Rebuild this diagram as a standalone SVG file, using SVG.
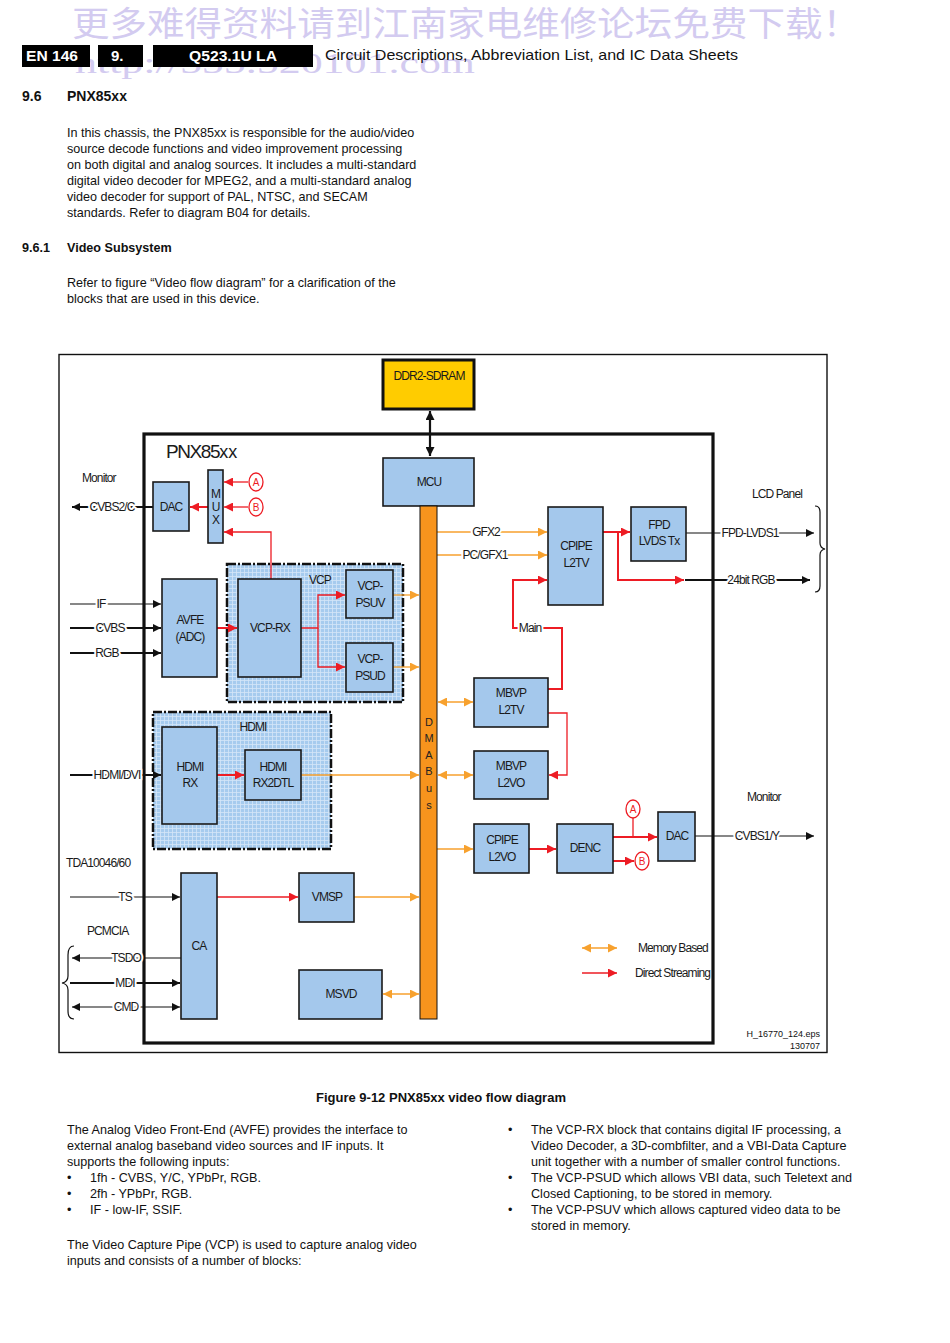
<svg xmlns="http://www.w3.org/2000/svg" width="950" height="1343" viewBox="0 0 950 1343">
<defs>
<style>
.t{font-family:"Liberation Sans",Arial,sans-serif;fill:#111}
.body{font-size:12.6px}
.lb{font-family:"Liberation Sans",Arial,sans-serif;font-size:12px;letter-spacing:-0.9px;fill:#1a1a1a}
.c{text-anchor:middle}
.halo{stroke:#fff;stroke-width:4;paint-order:stroke;stroke-linejoin:round}
.box{fill:#a4c8ec;stroke:#1a1a1a;stroke-width:1.6}
.grp{fill:url(#grid);stroke:#111;stroke-width:2.5;stroke-dasharray:9,2,2,2}
.red{stroke:#ed1c24;stroke-width:1.3;fill:none}
.redT{stroke:#ed1c24;stroke-width:2;fill:none}
.org{stroke:#f7a12e;stroke-width:1.3;fill:none}
.blk{stroke:#111;stroke-width:1.2;fill:none}
.blkT{stroke:#111;stroke-width:2.2;fill:none}
.circ{fill:#fff;stroke:#ed1c24;stroke-width:1.3}
.ctx{font-family:"Liberation Sans",Arial,sans-serif;font-size:10px;fill:#ed1c24;text-anchor:middle}
</style>
<pattern id="grid" width="4" height="4" patternUnits="userSpaceOnUse">
<rect width="4" height="4" fill="#a6cbee"/>
<path d="M0,0.5H4M0.5,0V4" stroke="#d4e6f7" stroke-width="0.8"/>
</pattern>
<marker id="aB" viewBox="0 0 10 10" refX="10" refY="5" markerWidth="10" markerHeight="8" markerUnits="userSpaceOnUse" orient="auto-start-reverse"><path d="M0,0L10,5L0,10z" fill="#111"/></marker>
<marker id="aBL" viewBox="0 0 10 10" refX="10" refY="5" markerWidth="12" markerHeight="9" markerUnits="userSpaceOnUse" orient="auto-start-reverse"><path d="M0,0L10,5L0,10z" fill="#111"/></marker>
<marker id="aR" viewBox="0 0 10 10" refX="10" refY="5" markerWidth="11" markerHeight="9" markerUnits="userSpaceOnUse" orient="auto-start-reverse"><path d="M0,0L10,5L0,10z" fill="#ed1c24"/></marker>
<marker id="aO" viewBox="0 0 10 10" refX="10" refY="5" markerWidth="10" markerHeight="9" markerUnits="userSpaceOnUse" orient="auto-start-reverse"><path d="M0,0L10,5L0,10z" fill="#f7a12e"/></marker>
</defs>
<rect width="950" height="1343" fill="#fff"/>

<!-- watermark -->
<text x="72" y="36" font-family="'Noto Sans CJK SC',sans-serif" font-size="34" fill="#d3cbf0" textLength="788" lengthAdjust="spacingAndGlyphs">更多难得资料请到江南家电维修论坛免费下载！</text>
<text x="75" y="73" font-family="'Liberation Serif',serif" font-size="30" fill="#d3cbf0" textLength="400" lengthAdjust="spacingAndGlyphs">http://555.520101.com</text>

<!-- header -->
<g id="header">
<rect x="22" y="45" width="68" height="22" fill="#000"/>
<rect x="98" y="45" width="45" height="22" fill="#000"/>
<rect x="153" y="45" width="160" height="22" fill="#000"/>
<text x="26" y="61" class="t" font-size="15" font-weight="bold" style="fill:#fff" textLength="52" lengthAdjust="spacingAndGlyphs">EN 146</text>
<text x="111" y="61" class="t" font-size="15" font-weight="bold" style="fill:#fff">9.</text>
<text x="233" y="61" class="t c" font-size="15" font-weight="bold" style="fill:#fff" textLength="88" lengthAdjust="spacingAndGlyphs">Q523.1U LA</text>
<text x="325" y="60" class="t" font-size="15" textLength="413" lengthAdjust="spacingAndGlyphs">Circuit Descriptions, Abbreviation List, and IC Data Sheets</text>
<text x="22" y="101" class="t" font-size="14" font-weight="bold">9.6</text>
<text x="67" y="101" class="t" font-size="14" font-weight="bold">PNX85xx</text>
</g>

<g id="intro" class="t body">
<text x="67" y="137">In this chassis, the PNX85xx is responsible for the audio/video</text>
<text x="67" y="153">source decode functions and video improvement processing</text>
<text x="67" y="169">on both digital and analog sources. It includes a multi-standard</text>
<text x="67" y="185">digital video decoder for MPEG2, and a multi-standard analog</text>
<text x="67" y="201">video decoder for support of PAL, NTSC, and SECAM</text>
<text x="67" y="217">standards. Refer to diagram B04 for details.</text>
<text x="22" y="252" font-weight="bold">9.6.1</text>
<text x="67" y="252" font-weight="bold">Video Subsystem</text>
<text x="67" y="287">Refer to figure “Video flow diagram” for a clarification of the</text>
<text x="67" y="303">blocks that are used in this device.</text>
</g>

<!-- frames -->
<g id="frame">
<rect x="59" y="354.5" width="768" height="698" fill="none" stroke="#111" stroke-width="1.4"/>
<rect x="144" y="434" width="569" height="609" fill="none" stroke="#111" stroke-width="3.2"/>
<text x="166" y="458" style="font-family:'Liberation Sans',Arial,sans-serif;font-size:19px;letter-spacing:-1.4px;fill:#1a1a1a">PNX85<tspan style="font-size:18px;letter-spacing:0px">xx</tspan></text>
</g>

<!-- groups -->
<g id="vcp">
<rect x="227" y="564" width="176" height="138" class="grp"/>
<text x="320" y="584" class="lb c">VCP</text>
</g>
<g id="hdmi">
<rect x="153" y="712" width="178" height="137" class="grp"/>
<text x="253" y="731" class="lb c">HDMI</text>
</g>

<!-- connectors -->
<g id="connectors">
<line x1="430" y1="411" x2="430" y2="456" class="blkT" marker-start="url(#aBL)" marker-end="url(#aBL)"/>
<line x1="248" y1="482" x2="224" y2="482" class="red" marker-end="url(#aR)"/>
<line x1="248" y1="507" x2="224" y2="507" class="red" marker-end="url(#aR)"/>
<line x1="208" y1="507" x2="190" y2="507" class="redT" marker-end="url(#aR)"/>
<polyline points="271,579 271,532 224,532" class="red" marker-end="url(#aR)"/>
<line x1="153" y1="507" x2="72" y2="507" class="blkT" marker-end="url(#aB)"/>
<line x1="70" y1="604" x2="161" y2="604" class="blk" marker-end="url(#aB)"/>
<line x1="70" y1="628" x2="161" y2="628" class="blkT" marker-end="url(#aB)"/>
<line x1="70" y1="653" x2="161" y2="653" class="blkT" marker-end="url(#aB)"/>
<line x1="217" y1="628" x2="237" y2="628" class="redT" marker-end="url(#aR)"/>
<polyline points="301,628 318,628 318,595 345,595" class="red" marker-end="url(#aR)"/>
<polyline points="318,628 318,667 345,667" class="red" marker-end="url(#aR)"/>
<line x1="393" y1="595" x2="419" y2="595" class="org" marker-end="url(#aO)"/>
<line x1="393" y1="667" x2="419" y2="667" class="org" marker-end="url(#aO)"/>
<line x1="70" y1="775" x2="161" y2="775" class="blkT" marker-end="url(#aB)"/>
<line x1="217" y1="775" x2="244" y2="775" class="redT" marker-end="url(#aR)"/>
<line x1="301" y1="775" x2="419" y2="775" class="org" marker-end="url(#aO)"/>
<line x1="70" y1="897" x2="180" y2="897" class="blk" marker-end="url(#aB)"/>
<line x1="181" y1="958" x2="72" y2="958" class="blk" marker-end="url(#aB)"/>
<line x1="70" y1="983" x2="180" y2="983" class="blkT" marker-end="url(#aB)"/>
<line x1="72" y1="1007" x2="180" y2="1007" class="blk" marker-start="url(#aB)" marker-end="url(#aB)"/>
<path d="M74,946 Q68,946 68,955 L68,976 Q68,982 62,983 Q68,984 68,990 L68,1011 Q68,1019 74,1019" class="blk"/>
<line x1="217" y1="897" x2="298" y2="897" class="red" marker-end="url(#aR)"/>
<line x1="354" y1="897" x2="419" y2="897" class="org" marker-end="url(#aO)"/>
<line x1="383" y1="994" x2="419" y2="994" class="org" marker-start="url(#aO)" marker-end="url(#aO)"/>
<line x1="437" y1="532" x2="547" y2="532" class="org" marker-end="url(#aO)"/>
<line x1="437" y1="555" x2="547" y2="555" class="org" marker-end="url(#aO)"/>
<line x1="603" y1="532" x2="630" y2="532" class="redT" marker-end="url(#aR)"/>
<polyline points="618,532 618,580 684,580" class="redT" marker-end="url(#aR)"/>
<line x1="685" y1="580" x2="810" y2="580" class="blkT" marker-end="url(#aB)"/>
<line x1="686" y1="533" x2="814" y2="533" class="blk" marker-end="url(#aB)"/>
<path d="M815,506 Q820,506 820,512 L820,543 Q820,548 825,549 Q820,550 820,555 L820,586 Q820,592 815,592" class="blk"/>
<polyline points="548,689 562,689 562,628 513,628 513,580 547,580" class="redT" marker-end="url(#aR)"/>
<polyline points="548,713 567,713 567,775 549,775" class="red" marker-end="url(#aR)"/>
<line x1="438" y1="702" x2="473" y2="702" class="org" marker-start="url(#aO)" marker-end="url(#aO)"/>
<line x1="438" y1="775" x2="473" y2="775" class="org" marker-start="url(#aO)" marker-end="url(#aO)"/>
<line x1="437" y1="849" x2="473" y2="849" class="org" marker-end="url(#aO)"/>
<line x1="529" y1="849" x2="556" y2="849" class="redT" marker-end="url(#aR)"/>
<line x1="613" y1="837" x2="657" y2="837" class="redT" marker-end="url(#aR)"/>
<line x1="633" y1="837" x2="633" y2="818" class="red"/>
<line x1="613" y1="861" x2="634" y2="861" class="redT" marker-end="url(#aR)"/>
<line x1="695" y1="836" x2="814" y2="836" class="blk" marker-end="url(#aB)"/>
<line x1="582" y1="948" x2="617" y2="948" class="org" marker-start="url(#aO)" marker-end="url(#aO)"/>
<line x1="582" y1="973" x2="617" y2="973" class="red" marker-end="url(#aR)"/>
</g>

<g id="labels">
<text x="82" y="482" class="lb">Monitor</text>
<text x="112" y="511" class="lb c halo">CVBS2/C</text>
<text x="101" y="608" class="lb c halo">IF</text>
<text x="110" y="632" class="lb c halo">CVBS</text>
<text x="107" y="657" class="lb c halo">RGB</text>
<text x="117" y="779" class="lb c halo">HDMI/DVI</text>
<text x="66" y="867" class="lb">TDA10046/60</text>
<text x="125" y="901" class="lb c halo">TS</text>
<text x="87" y="935" class="lb">PCMCIA</text>
<text x="126" y="962" class="lb c halo">TSDO</text>
<text x="125" y="987" class="lb c halo">MDI</text>
<text x="126" y="1011" class="lb c halo">CMD</text>
<text x="486" y="536" class="lb c halo">GFX2</text>
<text x="485" y="559" class="lb c halo">PC/GFX1</text>
<text x="530" y="632" class="lb c halo">Main</text>
<text x="750" y="537" class="lb c halo">FPD-LVDS1</text>
<text x="751" y="584" class="lb c halo">24bit RGB</text>
<text x="752" y="498" class="lb">LCD Panel</text>
<text x="747" y="801" class="lb">Monitor</text>
<text x="757" y="840" class="lb c halo">CVBS1/Y</text>
<text x="638" y="952" class="lb">Memory Based</text>
<text x="635" y="977" class="lb">Direct Streaming</text>
<text x="820" y="1037" class="t" font-size="9" text-anchor="end">H_16770_124.eps</text>
<text x="820" y="1049" class="t" font-size="9" text-anchor="end">130707</text>
</g>

<g id="ddr"><rect x="383" y="360" width="91" height="49" fill="#ffcc00" stroke="#111" stroke-width="3"/><text x="429" y="380" class="lb c">DDR2-SDRAM</text></g>
<g id="mcu"><rect x="383" y="458" width="91" height="48" class="box"/><text x="429" y="486" class="lb c">MCU</text></g>
<g id="dmabus"><rect x="420" y="506" width="17" height="513" fill="#f7941d" stroke="#111" stroke-width="1"/>
<text class="t c" font-size="11" style="fill:#222"><tspan x="429" y="726">D</tspan><tspan x="429" y="742">M</tspan><tspan x="429" y="759">A</tspan><tspan x="429" y="775">B</tspan><tspan x="429" y="792">u</tspan><tspan x="429" y="809">s</tspan></text></g>
<g id="dac1"><rect x="153" y="482" width="36" height="49" class="box"/><text x="171" y="511" class="lb c">DAC</text></g>
<g id="mux"><rect x="208" y="470" width="15" height="73" class="box"/><text class="lb c" style="letter-spacing:0"><tspan x="216" y="498">M</tspan><tspan x="216" y="511">U</tspan><tspan x="216" y="524">X</tspan></text></g>
<g id="circA1"><ellipse cx="256" cy="482" rx="7" ry="9" class="circ"/><text x="256" y="486" class="ctx">A</text></g>
<g id="circB1"><ellipse cx="256" cy="507" rx="7" ry="9" class="circ"/><text x="256" y="511" class="ctx">B</text></g>
<g id="avfe"><rect x="162" y="579" width="55" height="98" class="box"/><text x="190" y="624" class="lb c">AVFE</text><text x="190" y="641" class="lb c">(ADC)</text></g>
<g id="vcprx"><rect x="238" y="579" width="63" height="98" class="box"/><text x="270" y="632" class="lb c">VCP-RX</text></g>
<g id="psuv"><rect x="346" y="570" width="47" height="48" class="box"/><text x="370" y="590" class="lb c">VCP-</text><text x="370" y="607" class="lb c">PSUV</text></g>
<g id="psud"><rect x="346" y="643" width="47" height="49" class="box"/><text x="370" y="663" class="lb c">VCP-</text><text x="370" y="680" class="lb c">PSUD</text></g>
<g id="hdmirx"><rect x="162" y="727" width="55" height="97" class="box"/><text x="190" y="771" class="lb c">HDMI</text><text x="190" y="787" class="lb c">RX</text></g>
<g id="hdmirx2dtl"><rect x="245" y="750" width="56" height="50" class="box"/><text x="273" y="771" class="lb c">HDMI</text><text x="273" y="787" class="lb c">RX2DTL</text></g>
<g id="ca"><rect x="181" y="873" width="36" height="146" class="box"/><text x="199" y="950" class="lb c">CA</text></g>
<g id="vmsp"><rect x="299" y="873" width="55" height="49" class="box"/><text x="327" y="901" class="lb c">VMSP</text></g>
<g id="msvd"><rect x="299" y="970" width="83" height="49" class="box"/><text x="341" y="998" class="lb c">MSVD</text></g>
<g id="cpipel2tv"><rect x="548" y="507" width="55" height="98" class="box"/><text x="576" y="550" class="lb c">CPIPE</text><text x="576" y="567" class="lb c">L2TV</text></g>
<g id="fpd"><rect x="631" y="507" width="55" height="54" class="box"/><text x="659" y="529" class="lb c">FPD</text><text x="659" y="545" class="lb c">LVDS Tx</text></g>
<g id="mbvpl2tv"><rect x="474" y="678" width="74" height="49" class="box"/><text x="511" y="697" class="lb c">MBVP</text><text x="511" y="714" class="lb c">L2TV</text></g>
<g id="mbvpl2vo"><rect x="474" y="751" width="74" height="48" class="box"/><text x="511" y="770" class="lb c">MBVP</text><text x="511" y="787" class="lb c">L2VO</text></g>
<g id="cpipel2vo"><rect x="474" y="824" width="55" height="49" class="box"/><text x="502" y="844" class="lb c">CPIPE</text><text x="502" y="861" class="lb c">L2VO</text></g>
<g id="denc"><rect x="557" y="824" width="56" height="49" class="box"/><text x="585" y="852" class="lb c">DENC</text></g>
<g id="dac2"><rect x="658" y="812" width="37" height="49" class="box"/><text x="677" y="840" class="lb c">DAC</text></g>
<g id="circA2"><ellipse cx="633" cy="809" rx="7" ry="9" class="circ"/><text x="633" y="813" class="ctx">A</text></g>
<g id="circB2"><ellipse cx="642" cy="861" rx="7" ry="9" class="circ"/><text x="642" y="865" class="ctx">B</text></g>

<g id="bottomtext" class="t body">
<text x="441" y="1102" font-weight="bold" text-anchor="middle" style="font-size:13px">Figure 9-12 PNX85xx video flow diagram</text>
<text x="67" y="1134">The Analog Video Front-End (AVFE) provides the interface to</text>
<text x="67" y="1150">external analog baseband video sources and IF inputs. It</text>
<text x="67" y="1166">supports the following inputs:</text>
<text x="67" y="1182">•</text><text x="90" y="1182">1fh - CVBS, Y/C, YPbPr, RGB.</text>
<text x="67" y="1198">•</text><text x="90" y="1198">2fh - YPbPr, RGB.</text>
<text x="67" y="1214">•</text><text x="90" y="1214">IF - low-IF, SSIF.</text>
<text x="67" y="1249">The Video Capture Pipe (VCP) is used to capture analog video</text>
<text x="67" y="1265">inputs and consists of a number of blocks:</text>
<text x="508" y="1134">•</text><text x="531" y="1134">The VCP-RX block that contains digital IF processing, a</text>
<text x="531" y="1150">Video Decoder, a 3D-combfilter, and a VBI-Data Capture</text>
<text x="531" y="1166">unit together with a number of smaller control functions.</text>
<text x="508" y="1182">•</text><text x="531" y="1182">The VCP-PSUD which allows VBI data, such Teletext and</text>
<text x="531" y="1198">Closed Captioning, to be stored in memory.</text>
<text x="508" y="1214">•</text><text x="531" y="1214">The VCP-PSUV which allows captured video data to be</text>
<text x="531" y="1230">stored in memory.</text>
</g>
</svg>
